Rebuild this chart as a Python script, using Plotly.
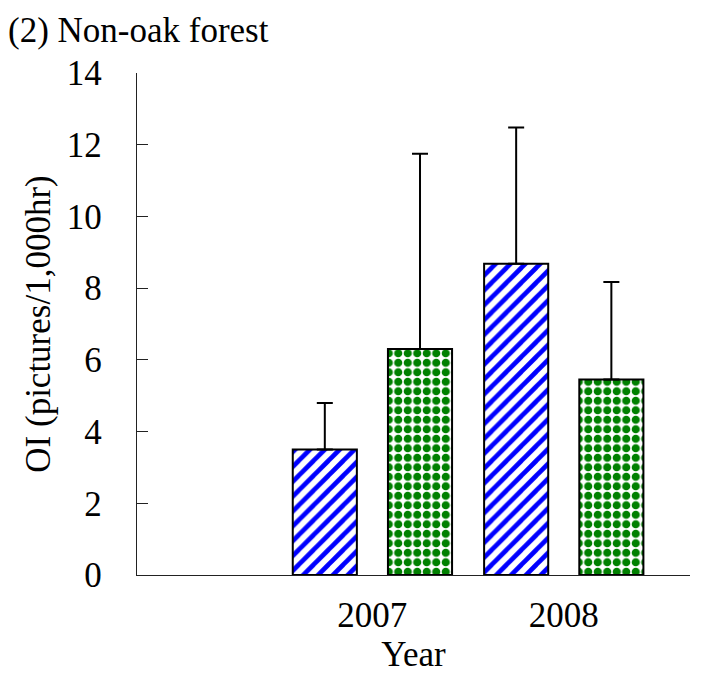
import plotly.graph_objects as go

years = ["2007", "2008"]
series_a = [3.5, 8.68]
series_a_err = [1.3, 3.8]
series_b = [6.3, 5.45]
series_b_err = [5.45, 2.72]
y_ticks = [0, 2, 4, 6, 8, 10, 12, 14]

FONT = "Liberation Serif, Times New Roman, serif"
FS = 35

fig = go.Figure()
fig.add_trace(go.Bar(
    x=years, y=series_a, width=0.335, offset=-0.416, opacity=1,
    marker=dict(color="white", opacity=1, line=dict(color="black", width=2),
                pattern=dict(shape="/", fgcolor="#0000ff", bgcolor="white", fgopacity=1,
                             size=10.5, solidity=0.45)),
    error_y=dict(type="data", symmetric=False, array=series_a_err, arrayminus=[0, 0],
                 color="black", thickness=2, width=8),
    showlegend=False,
))
fig.add_trace(go.Bar(
    x=years, y=series_b, width=0.335, offset=0.0815, opacity=1,
    marker=dict(color="white", opacity=1, line=dict(color="black", width=2),
                pattern=dict(shape=".", fgcolor="#008000", bgcolor="white", fgopacity=1,
                             size=9.5, solidity=0.58)),
    error_y=dict(type="data", symmetric=False, array=series_b_err, arrayminus=[0, 0],
                 color="black", thickness=2, width=8),
    showlegend=False,
))

fig.update_layout(
    width=694, height=667,
    margin=dict(l=129, r=12, t=65, b=100, autoexpand=False),
    paper_bgcolor="white", plot_bgcolor="white",
    font=dict(family=FONT, size=FS, color="black"),
    barmode="group",
    title=dict(text="(2) Non-oak forest", x=0.0, xanchor="left", y=0.968, yanchor="middle",
               font=dict(family=FONT, size=FS, color="black")),
    xaxis=dict(type="category", range=[-1.23, 1.66], showline=True, linecolor="#222222", linewidth=1.3,
               ticks="", showgrid=False, zeroline=False, ticklabelstandoff=9, automargin=False,
               tickfont=dict(size=FS),
               title=dict(text="Year", font=dict(size=FS), standoff=1)),
    yaxis=dict(range=[0, 14], tickvals=y_ticks, showline=True, linecolor="#222222", linewidth=1.3,
               ticks="inside", ticklen=11, tickwidth=1.3, tickcolor="#222222", automargin=False,
               showgrid=False, zeroline=False, ticklabelstandoff=27,
               tickfont=dict(size=FS),
               title=dict(text="OI (pictures/1,000hr)", font=dict(size=FS), standoff=5)),
)

fig.write_html("out.html")
